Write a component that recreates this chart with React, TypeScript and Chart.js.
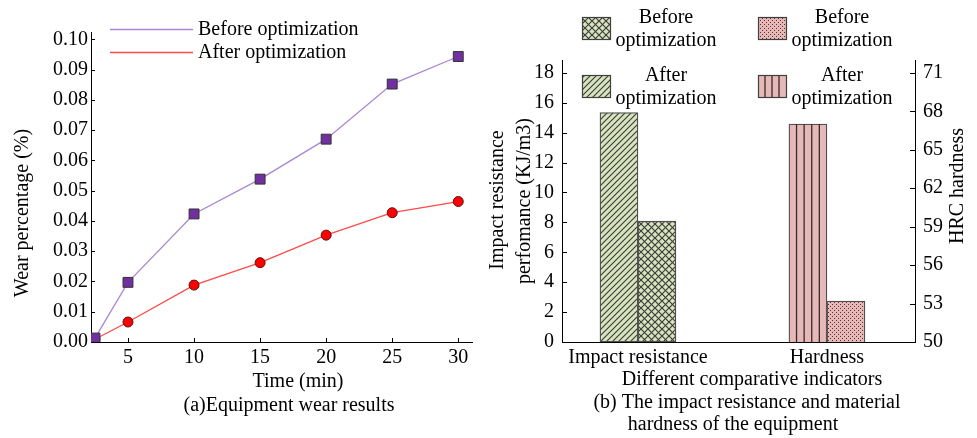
import React, { useEffect, useRef } from 'react';
import { Chart, registerables } from 'chart.js';

Chart.register(...registerables);

const FONT = "'Liberation Serif', 'Times New Roman', Times, serif";
const FS = 20;
Chart.defaults.font.family = FONT;
Chart.defaults.font.size = FS;
Chart.defaults.color = '#000';

// ---------- (a) Equipment wear results ----------
const times = [2.5, 5, 10, 15, 20, 25, 30];
const wearBefore = [0.0013, 0.0197, 0.0423, 0.0538, 0.067, 0.0852, 0.0943];
const wearAfter = [0.0009, 0.0066, 0.0188, 0.0262, 0.0353, 0.0427, 0.0464];
const timeTicks = [5, 10, 15, 20, 25, 30];
const wearTicks = [0, 0.01, 0.02, 0.03, 0.04, 0.05, 0.06, 0.07, 0.08, 0.09, 0.1];
const lineLabels = ['Before optimization', 'After optimization'];

// ---------- (b) Impact resistance and hardness ----------
const indicators = ['Impact resistance', 'Hardness'];
const impactValues = [15.35, 8.08]; // after, before (KJ/m3)
const hardnessValues = [67.0, 53.2]; // after, before (HRC)
const impactTicks = [0, 2, 4, 6, 8, 10, 12, 14, 16, 18];
const hardnessTicks = [50, 53, 56, 59, 62, 65, 68, 71];
const barLegendLines = [['Before', 'optimization'], ['After', 'optimization']];

const GREEN = '#d8e4bd';
const PINK = '#e6b9b8';
const HATCH = '#3e3e3e';
const BORDER = '#505050';

function makePattern(kind: string, bg: string, fg: string): CanvasPattern | string {
  const c = document.createElement('canvas');
  const s = kind === 'cross' ? 7 : kind === 'dots' ? 4 : 6;
  c.width = s;
  c.height = s;
  const g = c.getContext('2d');
  if (!g) return bg;
  g.fillStyle = bg;
  g.fillRect(0, 0, s, s);
  g.strokeStyle = fg;
  g.fillStyle = fg;
  g.lineWidth = 1.2;
  if (kind === 'diag' || kind === 'cross') {
    g.beginPath();
    g.moveTo(-1, s + 1); g.lineTo(s + 1, -1);
    g.moveTo(-1, 1); g.lineTo(1, -1);
    g.moveTo(s - 1, s + 1); g.lineTo(s + 1, s - 1);
    g.stroke();
  }
  if (kind === 'cross') {
    g.beginPath();
    g.moveTo(-1, -1); g.lineTo(s + 1, s + 1);
    g.moveTo(-1, s - 1); g.lineTo(1, s + 1);
    g.moveTo(s - 1, -1); g.lineTo(s + 1, 1);
    g.stroke();
  }
  if (kind === 'dots') {
    g.fillStyle = '#5a3030';
    g.fillRect(0, 0, 1, 1);
    g.fillRect(2, 2, 1, 1);
  }
  return g.createPattern(c, 'repeat') || bg;
}

function drawVLines(ctx: CanvasRenderingContext2D, left: number, top: number, w: number, h: number, n: number) {
  ctx.save();
  ctx.strokeStyle = '#3a2a2a';
  ctx.lineWidth = 1.3;
  ctx.beginPath();
  for (let k = 1; k < n; k++) {
    const x = left + (w * k) / n;
    ctx.moveTo(x, top);
    ctx.lineTo(x, top + h);
  }
  ctx.stroke();
  ctx.restore();
}

function WearChart() {
  const ref = useRef<HTMLCanvasElement>(null);
  useEffect(() => {
    const canvas = ref.current;
    if (!canvas) return;
    const decor = {
      id: 'wearDecor',
      afterDraw(chart: any) {
        const ctx: CanvasRenderingContext2D = chart.ctx;
        const area = chart.chartArea;
        const xs = chart.scales.x;
        const ys = chart.scales.y;
        ctx.save();
        ctx.strokeStyle = '#000';
        ctx.lineWidth = 1;
        ctx.beginPath();
        xs.ticks.forEach((t: any) => {
          const p = Math.round(xs.getPixelForValue(t.value)) + 0.5;
          ctx.moveTo(p, area.bottom);
          ctx.lineTo(p, area.bottom - 4);
        });
        ys.ticks.forEach((t: any) => {
          const p = Math.round(ys.getPixelForValue(t.value)) + 0.5;
          ctx.moveTo(area.left, p);
          ctx.lineTo(area.left + 4, p);
        });
        ctx.stroke();

        // legend
        const colors = ['#a888d0', '#ff4a4a'];
        const ly = [29.5, 52.5];
        ctx.font = `${FS}px ${FONT}`;
        ctx.textBaseline = 'middle';
        ctx.textAlign = 'left';
        ctx.fillStyle = '#000';
        lineLabels.forEach((lab, i) => {
          ctx.strokeStyle = colors[i];
          ctx.lineWidth = 1.3;
          ctx.beginPath();
          ctx.moveTo(110, ly[i]);
          ctx.lineTo(193, ly[i]);
          ctx.stroke();
          ctx.fillText(lab, 198, ly[i]);
        });

        // titles
        ctx.textAlign = 'center';
        ctx.fillText('Time (min)', 298, 382);
        ctx.fillText('(a)Equipment wear results', 289, 406);
        ctx.save();
        ctx.translate(23, 213);
        ctx.rotate(-Math.PI / 2);
        ctx.fillText('Wear percentage (%)', 0, 0);
        ctx.restore();
        ctx.restore();
      },
    };

    const chart = new Chart(canvas, {
      type: 'line',
      data: {
        datasets: [
          {
            label: lineLabels[0],
            data: times.map((t, i) => ({ x: t, y: wearBefore[i] })),
            borderColor: '#a888d0',
            borderWidth: 1.3,
            pointStyle: 'rect',
            pointRadius: 7,
            pointBackgroundColor: '#7030a0',
            pointBorderColor: '#333333',
            pointBorderWidth: 1,
            tension: 0,
          },
          {
            label: lineLabels[1],
            data: times.map((t, i) => ({ x: t, y: wearAfter[i] })),
            borderColor: '#ff4a4a',
            borderWidth: 1.3,
            pointStyle: 'circle',
            pointRadius: 5,
            pointBackgroundColor: '#ff0000',
            pointBorderColor: '#5a1010',
            pointBorderWidth: 1,
            tension: 0,
          },
        ],
      },
      options: {
        responsive: false,
        animation: false,
        devicePixelRatio: 1,
        events: [],
        layout: { padding: { top: 32, left: 0, right: 2, bottom: 0 } },
        plugins: { legend: { display: false }, tooltip: { enabled: false } },
        scales: {
          x: {
            type: 'linear',
            min: 2.2,
            max: 31.04,
            offset: false,
            grid: { display: false, drawTicks: false },
            border: { display: true, color: '#000', width: 1 },
            afterBuildTicks: (s: any) => { s.ticks = timeTicks.map((v) => ({ value: v })); },
            afterFit: (s: any) => { s.height = 96; },
            ticks: {
              padding: 4,
              color: '#000',
              font: { family: FONT, size: FS },
              maxRotation: 0,
              autoSkip: false,
              callback: (v: any) => String(v),
            },
          },
          y: {
            type: 'linear',
            min: 0,
            max: 0.1024,
            grid: { display: false, drawTicks: false },
            border: { display: true, color: '#000', width: 1 },
            afterBuildTicks: (s: any) => { s.ticks = wearTicks.map((v) => ({ value: v })); },
            afterFit: (s: any) => { s.width = 91; },
            ticks: {
              padding: 3,
              color: '#000',
              font: { family: FONT, size: FS },
              autoSkip: false,
              callback: (v: any) => Number(v).toFixed(2),
            },
          },
        },
      },
      plugins: [decor],
    } as any);
    return () => chart.destroy();
  }, []);
  return <canvas ref={ref} width={480} height={438} style={{ position: 'absolute', left: 0, top: 0 }} />;
}

function BarChartB() {
  const ref = useRef<HTMLCanvasElement>(null);
  useEffect(() => {
    const canvas = ref.current;
    if (!canvas) return;
    const diag = makePattern('diag', GREEN, HATCH);
    const cross = makePattern('cross', GREEN, HATCH);
    const dots = makePattern('dots', PINK, '#5a3030');

    const decor = {
      id: 'barDecor',
      afterDatasetsDraw(chart: any) {
        const ctx: CanvasRenderingContext2D = chart.ctx;
        const area = chart.chartArea;
        const meta = chart.getDatasetMeta(2);
        meta.data.forEach((el: any) => {
          const p = el.getProps(['x', 'y', 'base', 'width'], true);
          const top = Math.min(p.y, p.base);
          const bottom = Math.min(Math.max(p.y, p.base), area.bottom);
          drawVLines(ctx, p.x - p.width / 2, top, p.width, bottom - top, 5);
        });
      },
      afterDraw(chart: any) {
        const ctx: CanvasRenderingContext2D = chart.ctx;
        const area = chart.chartArea;
        const yl = chart.scales.yL;
        const yr = chart.scales.yR;
        ctx.save();
        ctx.strokeStyle = '#000';
        ctx.lineWidth = 1;
        ctx.beginPath();
        yl.ticks.forEach((t: any) => {
          const p = Math.round(yl.getPixelForValue(t.value)) + 0.5;
          ctx.moveTo(area.left, p);
          ctx.lineTo(area.left + 5, p);
        });
        yr.ticks.forEach((t: any) => {
          const p = Math.round(yr.getPixelForValue(t.value)) + 0.5;
          ctx.moveTo(area.right, p);
          ctx.lineTo(area.right - 5, p);
        });
        ctx.stroke();

        // legend (2 x 2)
        const fills = [[cross, diag], [dots, PINK]];
        const boxX = [102, 278];
        const boxY = [17, 75];
        const textX = [186, 362];
        const textY = [[17.5, 41], [75.5, 99]];
        ctx.font = `${FS}px ${FONT}`;
        ctx.textAlign = 'center';
        ctx.textBaseline = 'middle';
        for (let c = 0; c < 2; c++) {
          for (let r = 0; r < 2; r++) {
            ctx.fillStyle = fills[c][r] as any;
            ctx.fillRect(boxX[c], boxY[r], 28, 22);
            if (c === 1 && r === 1) drawVLines(ctx, boxX[c], boxY[r], 28, 22, 4);
            ctx.strokeStyle = '#404040';
            ctx.lineWidth = 1.2;
            ctx.strokeRect(boxX[c] + 0.5, boxY[r] + 0.5, 28, 22);
            ctx.fillStyle = '#000';
            ctx.fillText(barLegendLines[r][0], textX[c], textY[r][0]);
            ctx.fillText(barLegendLines[r][1], textX[c], textY[r][1]);
          }
        }

        // titles
        ctx.fillStyle = '#000';
        ctx.fillText('Different comparative indicators', 272, 380);
        ctx.fillText('(b) The impact resistance and material', 267, 403);
        ctx.fillText('hardness of the equipment', 253, 425);
        ctx.save();
        ctx.translate(18, 200);
        ctx.rotate(-Math.PI / 2);
        ctx.fillText('Impact resistance', 0, 0);
        ctx.restore();
        ctx.save();
        ctx.translate(45, 201);
        ctx.rotate(-Math.PI / 2);
        ctx.fillText('perfomance (KJ/m3)', 0, 0);
        ctx.restore();
        ctx.save();
        ctx.translate(478, 186);
        ctx.rotate(-Math.PI / 2);
        ctx.fillText('HRC hardness', 0, 0);
        ctx.restore();
        ctx.restore();
      },
    };

    const common = {
      borderColor: BORDER,
      borderWidth: 1.3,
      borderSkipped: false,
      barThickness: 38,
      skipNull: true,
    };

    const chart = new Chart(canvas, {
      type: 'bar',
      data: {
        datasets: [
          { ...common, label: 'After optimization', data: [{ x: 1, y: impactValues[0] }], yAxisID: 'yL', backgroundColor: diag },
          { ...common, label: 'Before optimization', data: [{ x: 1, y: impactValues[1] }], yAxisID: 'yL', backgroundColor: cross },
          { ...common, label: 'After optimization', data: [{ x: 2, y: hardnessValues[0] }], yAxisID: 'yR', backgroundColor: PINK },
          { ...common, label: 'Before optimization', data: [{ x: 2, y: hardnessValues[1] }], yAxisID: 'yR', backgroundColor: dots },
        ],
      },
      options: {
        responsive: false,
        animation: false,
        devicePixelRatio: 1,
        events: [],
        layout: { padding: { top: 60, left: 0, right: 0, bottom: 0 } },
        plugins: { legend: { display: false }, tooltip: { enabled: false } },
        scales: {
          x: {
            type: 'linear',
            min: 0.598,
            max: 2.466,
            offset: false,
            grid: { display: false, drawTicks: false },
            border: { display: true, color: '#000', width: 1 },
            afterBuildTicks: (s: any) => { s.ticks = indicators.map((_, i) => ({ value: i + 1 })); },
            afterFit: (s: any) => { s.height = 96; },
            ticks: {
              padding: 4,
              color: '#000',
              font: { family: FONT, size: FS },
              maxRotation: 0,
              autoSkip: false,
              callback: (v: any) => indicators[Math.round(Number(v)) - 1] ?? '',
            },
          },
          yL: {
            type: 'linear',
            position: 'left',
            min: 0,
            max: 18.86,
            grid: { display: false, drawTicks: false },
            border: { display: true, color: '#000', width: 1 },
            afterBuildTicks: (s: any) => { s.ticks = impactTicks.map((v) => ({ value: v })); },
            afterFit: (s: any) => { s.width = 82; },
            ticks: { padding: 8, color: '#000', font: { family: FONT, size: FS }, autoSkip: false },
          },
          yR: {
            type: 'linear',
            position: 'right',
            min: 50,
            max: 72,
            grid: { display: false, drawTicks: false },
            border: { display: true, color: '#000', width: 1 },
            afterBuildTicks: (s: any) => { s.ticks = hardnessTicks.map((v) => ({ value: v })); },
            afterFit: (s: any) => { s.width = 62; },
            ticks: { padding: 8, color: '#000', font: { family: FONT, size: FS }, autoSkip: false },
          },
        },
      },
      plugins: [decor],
    } as any);
    return () => chart.destroy();
  }, []);
  return <canvas ref={ref} width={497} height={438} style={{ position: 'absolute', left: 480, top: 0 }} />;
}

export default function App() {
  return (
    <div style={{ position: 'absolute', left: 0, top: 0, width: 977, height: 438, background: '#ffffff', overflow: 'hidden' }}>
      <WearChart />
      <BarChartB />
    </div>
  );
}
